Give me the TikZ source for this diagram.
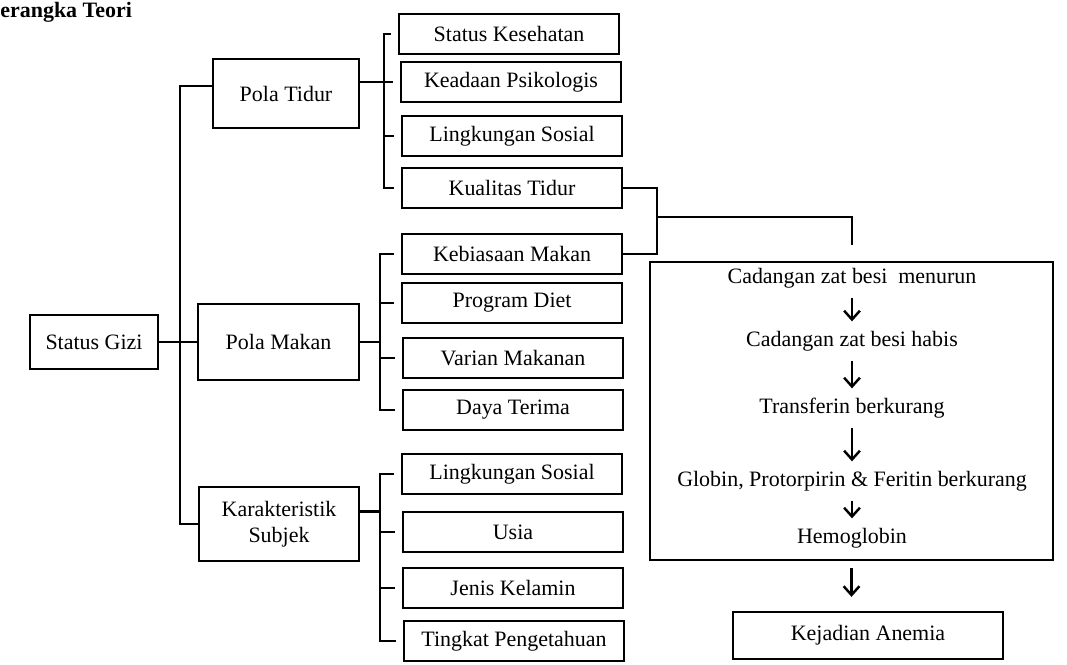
\documentclass[tikz,border=0pt]{standalone}
\usepackage{fontspec}
\setmainfont{Liberation Serif}
\usetikzlibrary{arrows.meta}
\begin{document}
\begin{tikzpicture}[x=0.02cm,y=-0.02cm,
		every node/.style={font=\fontsize{12.5}{15}\selectfont},
		kotak/.style={draw,line width=1.3pt,align=center,inner sep=2pt},
		sub/.style={kotak,minimum width=4.4cm,minimum height=0.8cm},
		teks/.style={text height=9pt,text depth=3pt,inner sep=2pt},
		garis/.style={line width=1.3pt},
		panah/.style={line width=1.4pt,shorten <=3pt,shorten >=3pt,-{Straight Barb[length=5pt,width=9pt]}}]
			\useasboundingbox (0,0) rectangle (1067,664);
			\node[anchor=base west,inner sep=0,font=\bfseries\fontsize{12.5}{15}\selectfont] (judul) at (0,17) {erangka Teori};
			
			\node[kotak,minimum width=2.56cm,minimum height=1.08cm] (gizi) at (94,342) {Status Gizi};
			\node[kotak,minimum width=2.92cm,minimum height=1.38cm] (tidur) at (286,93.5) {Pola Tidur};
			\node[kotak,minimum width=3.22cm,minimum height=1.52cm] (makan) at (278.5,342) {Pola Makan};
			\node[kotak,minimum width=3.2cm,minimum height=1.48cm] (subjek) at (279,524) {Karakteristik\\Subjek};
			
			\node[sub] (kesehatan) at (509,34) {Status Kesehatan};
			\node[sub] (psikologis) at (511,82) {Keadaan Psikologis};
			\node[sub] (sosiala) at (512,136) {Lingkungan Sosial};
			\node[sub] (kualitas) at (512,188) {Kualitas Tidur};
			\node[sub] (kebiasaan) at (512,254) {Kebiasaan Makan};
			\node[sub] (diet) at (512,303) {Program Diet};
			\node[sub] (varian) at (513,358) {Varian Makanan};
			\node[sub] (terima) at (513,410) {Daya Terima};
			\node[sub] (sosialb) at (512,474) {Lingkungan Sosial};
			\node[sub] (usia) at (513,532) {Usia};
			\node[sub] (kelamin) at (513,588) {Jenis Kelamin};
			\node[sub] (tahu) at (514,641) {Tingkat Pengetahuan};
			
			\coordinate (kiri) at (180,0);
			\coordinate (s1) at (384,0);
			\coordinate (s2) at (380,0);
			\coordinate (s3) at (380,0);
			\coordinate (sj) at ([yshift=0.25cm]subjek.east);
			
			\draw[garis] ([yshift=0.15cm]tidur.west) -| (kiri |- subjek.west) -- (subjek.west);
			\draw[garis] (gizi.east) -- (makan.west);
			
			% pola tidur
			\draw[garis] ([xshift=-4pt]kesehatan.west) -| (s1 |- kualitas.west) -- ([xshift=-4pt]kualitas.west);
			\draw[garis] (tidur.east |- psikologis.west) -- ([xshift=-4pt]psikologis.west);
			\draw[garis] ([xshift=-4pt]sosiala.west) -- (s1 |- sosiala.west);
			
			% pola makan
			\draw[garis] ([xshift=-4pt]kebiasaan.west) -| (s2 |- terima.west) -- ([xshift=-4pt]terima.west);
			\draw[garis] (makan.east) -- (s2 |- makan.east);
			\draw[garis] ([xshift=-4pt]diet.west) -- (s2 |- diet.west);
			\draw[garis] ([xshift=-4pt]varian.west) -- (s2 |- varian.west);
			
			% karakteristik subjek
			\draw[garis] ([xshift=-4pt]sosialb.west) -| (s3 |- tahu.west) -- ([xshift=-4pt]tahu.west);
			\draw[garis] (sj) -- (s3 |- sj);
			\draw[garis] ([xshift=-4pt]usia.west) -- (s3 |- usia.west);
			\draw[garis] ([xshift=-4pt]kelamin.west) -- (s3 |- kelamin.west);
			
			\coordinate (temu) at (657,217);
			\coordinate (turun) at (852,245);
			\draw[garis] (kualitas.east) -| (temu) |- (kebiasaan.east);
			\draw[garis] (temu) -| (turun);
			
			\node[kotak,minimum width=8.06cm,minimum height=5.96cm] (proses) at (851.5,411) {};
			\node[teks] (c1) at (852,278) {Cadangan zat besi\ \ menurun};
			\node[teks] (c2) at (852,341) {Cadangan zat besi habis};
			\node[teks] (c3) at (852,408) {Transferin berkurang};
			\node[teks] (c4) at (852,481) {Globin, Protorpirin \& Feritin berkurang};
			\node[teks] (c5) at (852,538) {Hemoglobin};
			\node[kotak,minimum width=5.4cm,minimum height=0.94cm] (anemia) at (868,635.5) {Kejadian Anemia};
			
			\foreach \a/\b in {c1/c2,c2/c3,c3/c4,c4/c5}
				\draw[panah] (\a) -- (\b);
			\draw[panah,shorten <=4pt,shorten >=8pt] (proses.south) -- (proses.south |- anemia.north);
		\end{tikzpicture}
\end{document}
